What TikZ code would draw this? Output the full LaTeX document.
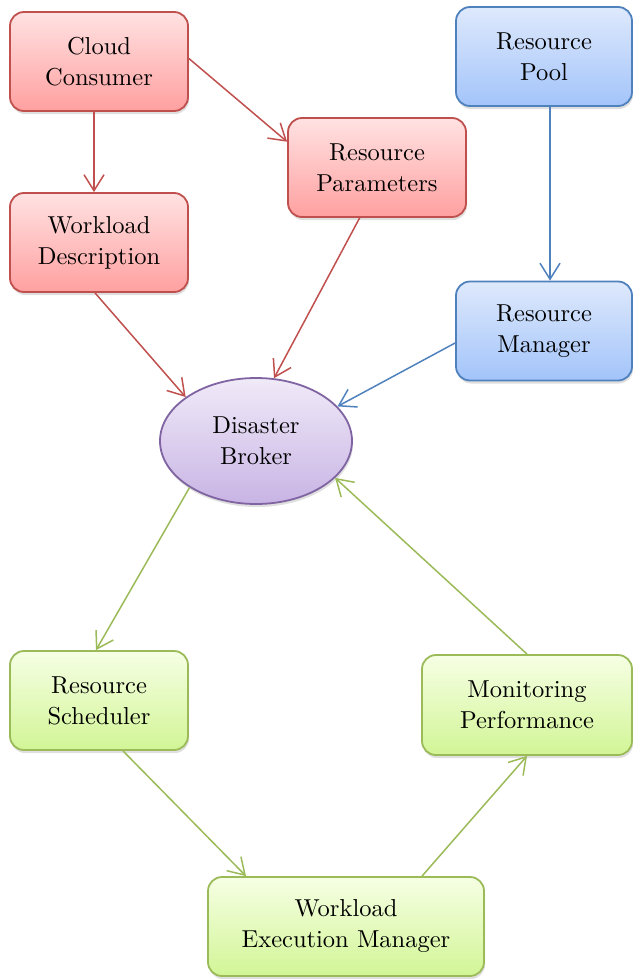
\documentclass[tikz,border=0pt]{standalone}
\usepackage{fontspec}
\setmainfont{lmroman10-regular.otf}
\usetikzlibrary{arrows.meta,shapes.geometric,shadows,calc}
\definecolor{redb}{RGB}{192,80,77}
\definecolor{redt}{RGB}{255,226,226}
\definecolor{redbt}{RGB}{255,160,160}
\definecolor{blueb}{RGB}{79,129,189}
\definecolor{bluet}{RGB}{222,233,252}
\definecolor{bluebt}{RGB}{163,196,250}
\definecolor{purb}{RGB}{128,100,162}
\definecolor{purt}{RGB}{240,234,248}
\definecolor{purbt}{RGB}{200,180,228}
\definecolor{grnb}{RGB}{155,187,89}
\definecolor{grnt}{RGB}{246,255,228}
\definecolor{grnbt}{RGB}{210,245,150}
\tikzset{
  box/.style={rectangle, rounded corners=14pt, line width=1.8pt, minimum width=178pt, minimum height=99pt,
    align=center, font=\fontsize{24.5}{31}\selectfont, inner sep=2pt,
    drop shadow={shadow xshift=1pt, shadow yshift=-3pt, opacity=0.25, fill=gray}},
  redbox/.style={box, draw=redb, top color=redt, bottom color=redbt},
  bluebox/.style={box, draw=blueb, top color=bluet, bottom color=bluebt},
  grnbox/.style={box, draw=grnb, top color=grnt, bottom color=grnbt},
  purell/.style={ellipse, line width=1.8pt, minimum width=192pt, minimum height=126pt, inner sep=0pt,
    align=center, font=\fontsize{24.5}{31}\selectfont, draw=purb, top color=purt, bottom color=purbt,
    drop shadow={shadow xshift=1pt, shadow yshift=-3pt, opacity=0.25, fill=gray}},
  conn/.style={line width=1.5pt, -{Straight Barb[length=16pt,width=20pt,line width=1.5pt]}},
  redc/.style={conn, draw=redb},
  bluec/.style={conn, draw=blueb},
  grnc/.style={conn, draw=grnb},
}
\begin{document}
\begin{tikzpicture}[x=1pt,y=1pt]
\useasboundingbox (0,0) rectangle (632,-980);
\node[redbox] (cc) at (99,-61.5) {Cloud\\Consumer};
\node[redbox] (rp) at (377,-167.5) {Resource\\Parameters};
\node[redbox] (wd) at (99,-242.5) {Workload\\Description};
\node[bluebox, minimum width=176pt] (rpool) at (544,-56.5) {Resource\\Pool};
\node[bluebox, minimum width=176pt] (rm) at (544,-331) {Resource\\Manager};
\node[purell] (db) at (256,-441) {Disaster\\Broker};
\node[grnbox] (rs) at (99,-700.5) {Resource\\Scheduler};
\node[grnbox, minimum width=210pt, minimum height=100pt] (mp) at (527,-705) {Monitoring\\Performance};
\node[grnbox, minimum width=276pt] (wem) at (346,-926.5) {Workload\\Execution Manager};

\draw[redc] ([xshift=-5pt]cc.south) -- ([xshift=-5pt]wd.north);
\draw[redc] ([yshift=3pt]cc.east) -- (rp.164);
\draw[redc] ([xshift=-4pt]wd.south) -- (db.148);
\draw[redc] (rp.251) -- (db.74);
\draw[bluec] ([xshift=6pt]rpool.south) -- ([xshift=6pt]rm.north);
\draw[bluec] ([yshift=-12pt]rm.west) -- (db.23);
\draw[grnc] (db.215) -- ([xshift=-3pt]rs.north);
\draw[grnc] ([xshift=24pt]rs.south) -- ([xshift=-100pt]wem.north);
\draw[grnc] ([xshift=76pt]wem.north) -- (mp.south);
\draw[grnc] (mp.north) -- (db.335);
\end{tikzpicture}
\end{document}
